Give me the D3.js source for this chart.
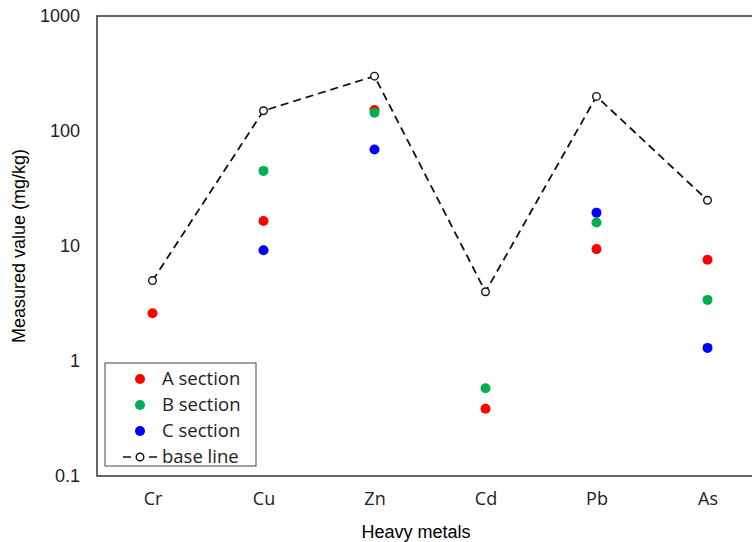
<!DOCTYPE html>
<html>
<head>
<meta charset="utf-8">
<script src="https://cdn.jsdelivr.net/npm/d3@7"></script>
<style>
  body { margin: 0; background: #fff; }
  .tick-label { font-family: "Liberation Sans", Arial, sans-serif; font-size: 18px; fill: #222; }
  .cat-label { font-family: "Open Sans", sans-serif; font-size: 18px; fill: #222; }
  .axis-title { font-family: "Liberation Sans", Arial, sans-serif; font-size: 18px; fill: #000; }
  .legend-text { font-family: "Open Sans", sans-serif; font-size: 18.5px; fill: #222; }
</style>
</head>
<body>
<div id="chart"></div>
<script>
var metals = ["Cr", "Cu", "Zn", "Cd", "Pb", "As"];
var sectionA = [2.6, 16.5, 152, 0.385, 9.4, 7.6];
var sectionB = [null, 45, 144, 0.58, 16, 3.4];
var sectionC = [null, 9.2, 69, null, 19.5, 1.3];
var baseLine = [5, 150, 300, 4, 200, 25];
var yTicks = [0.1, 1, 10, 100, 1000];

var series = [
    {name: "A section", values: sectionA, color: "#ff0000"},
    {name: "B section", values: sectionB, color: "#00b050"},
    {name: "C section", values: sectionC, color: "#0000ff"}
];

var width = 752, height = 542;
var margin = {top: 16, right: -11, bottom: 66, left: 97};
var plotW = width - margin.left - margin.right;
var plotH = height - margin.top - margin.bottom;

var svg = d3.select("#chart").append("svg")
    .attr("width", width)
    .attr("height", height);

var g = svg.append("g")
    .attr("transform", "translate(" + margin.left + "," + margin.top + ")");

var x = d3.scalePoint()
    .domain(metals)
    .range([0, plotW])
    .padding(0.5);

var y = d3.scaleLog()
    .domain([0.1, 1000])
    .range([plotH, 0]);

// plot frame
g.append("rect")
    .attr("x", 0).attr("y", 0)
    .attr("width", plotW).attr("height", plotH)
    .attr("fill", "none")
    .attr("stroke", "#333")
    .attr("stroke-width", 1.5);

// y axis labels
var yAxis = d3.axisLeft(y)
    .tickValues(yTicks)
    .tickFormat(function(d){ return String(d); })
    .tickSize(0)
    .tickPadding(17);
g.append("g").call(yAxis)
    .call(function(a){ a.select(".domain").remove(); })
    .selectAll("text")
    .attr("class", "tick-label")
    .attr("fill", null)
    .attr("font-size", null)
    .attr("font-family", null);

// x axis labels
var xAxis = d3.axisBottom(x).tickSize(0).tickPadding(16);
g.append("g")
    .attr("transform", "translate(0," + plotH + ")")
    .call(xAxis)
    .call(function(a){ a.select(".domain").remove(); })
    .selectAll("text")
    .attr("class", "cat-label")
    .attr("fill", null)
    .attr("font-size", null)
    .attr("font-family", null);

// base line
var line = d3.line()
    .x(function(d, i){ return x(metals[i]); })
    .y(function(d){ return y(d); });

g.append("path")
    .datum(baseLine)
    .attr("d", line)
    .attr("fill", "none")
    .attr("stroke", "#111")
    .attr("stroke-width", 1.8)
    .attr("stroke-dasharray", "8,5");

g.selectAll(".base-pt")
    .data(baseLine)
    .enter().append("circle")
    .attr("class", "base-pt")
    .attr("cx", function(d, i){ return x(metals[i]); })
    .attr("cy", function(d){ return y(d); })
    .attr("r", 3.8)
    .attr("fill", "#fff")
    .attr("stroke", "#111")
    .attr("stroke-width", 1.4);

// section points
series.forEach(function(s){
    g.selectAll(null)
        .data(s.values.map(function(v, i){ return {metal: metals[i], value: v}; })
            .filter(function(d){ return d.value != null; }))
        .enter().append("circle")
        .attr("cx", function(d){ return x(d.metal); })
        .attr("cy", function(d){ return y(d.value); })
        .attr("r", 5)
        .attr("fill", s.color);
});

// axis titles
svg.append("text")
    .attr("class", "axis-title")
    .attr("text-anchor", "middle")
    .attr("transform", "translate(25," + (margin.top + plotH / 2) + ") rotate(-90)")
    .text("Measured value (mg/kg)");

svg.append("text")
    .attr("class", "axis-title")
    .attr("text-anchor", "middle")
    .attr("x", margin.left + x("Zn") + (x("Cd") - x("Zn")) / 2 - 14)
    .attr("y", 538)
    .text("Heavy metals");

// legend
var legend = svg.append("g").attr("transform", "translate(105,363)");
legend.append("rect")
    .attr("width", 151).attr("height", 103)
    .attr("fill", "#fff")
    .attr("stroke", "#444")
    .attr("stroke-width", 1);

series.forEach(function(s, i){
    var ly = 16 + i * 26;
    legend.append("circle")
        .attr("cx", 35).attr("cy", ly).attr("r", 5)
        .attr("fill", s.color);
    legend.append("text")
        .attr("class", "legend-text")
        .attr("x", 57).attr("y", ly + 6)
        .text(s.name);
});
var lb = 16 + 3 * 26;
legend.append("line")
    .attr("x1", 18).attr("x2", 53)
    .attr("y1", lb).attr("y2", lb)
    .attr("stroke", "#111")
    .attr("stroke-width", 1.6)
    .attr("stroke-dasharray", "8,5");
legend.append("circle")
    .attr("cx", 35).attr("cy", lb).attr("r", 3.8)
    .attr("fill", "#fff")
    .attr("stroke", "#111")
    .attr("stroke-width", 1.4);
legend.append("text")
    .attr("class", "legend-text")
    .attr("x", 57).attr("y", lb + 6)
    .text("base line");
</script>
</body>
</html>
